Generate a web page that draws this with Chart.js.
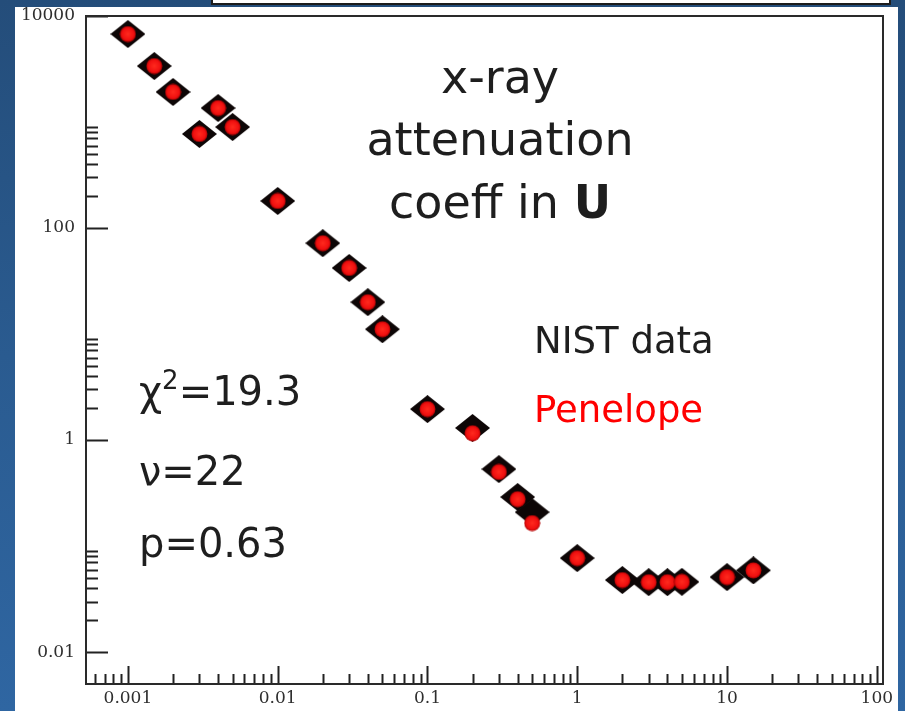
<!DOCTYPE html>
<html>
<head>
<meta charset="utf-8">
<script src="https://cdn.jsdelivr.net/npm/chart.js@4.4.1/dist/chart.umd.min.js"></script>
<style>
  html, body { margin: 0; padding: 0; }
  body {
    width: 905px; height: 711px; overflow: hidden; position: relative;
    background: linear-gradient(to bottom, #244d7a 0%, #2a5b90 50%, #2f66a2 100%);
  }
  #panel { position: absolute; left: 15px; top: 7px; width: 883px; height: 720px; background: #ffffff; }
  #topbox { position: absolute; left: 211px; top: -6px; width: 676px; height: 7px; background: #ffffff; border: 2px solid #1c1c1c; }
  #wrap { position: absolute; left: 0; top: 0; width: 905px; height: 711px; }
  .t { position: absolute; font-family: "DejaVu Sans", Verdana, sans-serif; color: #1e1e1e; white-space: nowrap; }
  .title { left: 300px; width: 400px; text-align: center; font-size: 46px; line-height: 46px; }
  .stat { left: 139px; font-size: 40px; line-height: 40px; }
  .leg { left: 534px; font-size: 37px; line-height: 37px; }
  sup { font-size: 0.65em; vertical-align: 0; position: relative; top: -0.6em; }
</style>
</head>
<body>
<div id="panel"></div>
<div id="topbox"></div>
<div id="wrap"><canvas id="c" width="905" height="711"></canvas></div>

<div class="t title" style="top:54px">x-ray</div>
<div class="t title" style="top:116px">attenuation</div>
<div class="t title" style="top:179px">coeff in <b>U</b></div>

<div class="t stat" style="top:371px">χ<sup>2</sup>=19.3</div>
<div class="t stat" style="top:451px">ν=22</div>
<div class="t stat" style="top:523px">p=0.63</div>

<div class="t leg" style="top:322px">NIST data</div>
<div class="t leg" style="top:391px; color:#ff0000">Penelope</div>

<script>
// ---- data (photon energy in MeV, attenuation coefficient) ----
const energies = [0.001, 0.0015, 0.002, 0.003, 0.004, 0.005, 0.01, 0.02, 0.03, 0.04, 0.05,
                  0.1, 0.2, 0.3, 0.4, 0.5, 1, 2, 3, 4, 5, 10, 15];
const nistValues = [6760, 3375, 1920, 771, 1355, 897, 180, 72, 42, 20, 11.1,
                    1.96, 1.30, 0.532, 0.29, 0.209, 0.077, 0.0478, 0.0457, 0.0457, 0.046, 0.051, 0.059];
const penelopeValues = [6760, 3375, 1920, 771, 1355, 897, 180, 72, 42, 20, 11.1,
                        1.96, 1.16, 0.50, 0.277, 0.165, 0.077, 0.0478, 0.0457, 0.0457, 0.046, 0.051, 0.059];

const xTickValues = [0.001, 0.01, 0.1, 1, 10, 100];
const xTickLabels = ['0.001', '0.01', '0.1', '1', '10', '100'];
const yTickValues = [0.01, 1, 100, 10000];
const yTickLabels = ['0.01', '1', '100', '10000'];
const yMinorDecades = [0.01, 1, 100];

// ---- tick positions (axis decoration) ----
const X_MIN = 0.000525, X_MAX = 110, Y_MIN = 0.005, Y_MAX = 10000;
function near(a, b) { return Math.abs(a - b) <= 1e-9 * Math.max(Math.abs(a), Math.abs(b)); }
const xTickPositions = [];
for (let d = 0.0001; d <= 100; d *= 10) {
  for (let k = 1; k <= 9; k++) {
    const v = parseFloat((k * d).toPrecision(6));
    if (v >= X_MIN && v <= X_MAX) xTickPositions.push(v);
  }
}
const yTickPositions = yTickValues.slice();
yMinorDecades.forEach(d => { for (let k = 2; k <= 9; k++) yTickPositions.push(parseFloat((k * d).toPrecision(6))); });
yTickPositions.sort((a, b) => a - b);

function labelFor(v, vals, labs) {
  for (let i = 0; i < vals.length; i++) if (near(v, vals[i])) return labs[i];
  return '';
}

// ---- marker images ----
function makeDiamond(w, h, color) {
  const c = document.createElement('canvas'); c.width = w; c.height = h;
  const g = c.getContext('2d');
  g.fillStyle = color;
  g.beginPath(); g.moveTo(w / 2, 0); g.lineTo(w, h / 2); g.lineTo(w / 2, h); g.lineTo(0, h / 2); g.closePath();
  g.fill();
  return c;
}
function makeDot(d) {
  const c = document.createElement('canvas'); c.width = d; c.height = d;
  const g = c.getContext('2d');
  const r = d / 2;
  const grad = g.createRadialGradient(r, r, 0, r, r, r);
  grad.addColorStop(0, '#ff2a1e'); grad.addColorStop(0.7, '#f01010'); grad.addColorStop(1, '#a00000');
  g.fillStyle = grad;
  g.beginPath(); g.arc(r, r, r - 0.5, 0, Math.PI * 2); g.fill();
  return c;
}
const diamondImg = makeDiamond(35, 28, '#0d0606');
const dotImg = makeDot(17);

// ---- plugin: plot frame and inward tick marks ----
const framePlugin = {
  id: 'frame',
  beforeDatasetsDraw(chart) {
    const { ctx, chartArea: a, scales } = chart;
    ctx.save();
    ctx.strokeStyle = '#222222';
    ctx.lineWidth = 2;
    ctx.beginPath();
    scales.x.ticks.forEach(t => {
      const px = Math.round(scales.x.getPixelForValue(t.value)) + 0.5;
      const len = t.label ? 18 : 10;
      ctx.moveTo(px, a.bottom); ctx.lineTo(px, a.bottom - len);
    });
    scales.y.ticks.forEach(t => {
      const py = Math.round(scales.y.getPixelForValue(t.value)) + 0.5;
      const len = t.label ? 22 : 12;
      ctx.moveTo(a.left, py); ctx.lineTo(a.left + len, py);
    });
    ctx.stroke();
    ctx.strokeStyle = '#2a2a2a';
    ctx.strokeRect(a.left, a.top, a.right - a.left, a.bottom - a.top);
    ctx.restore();
  }
};

const tickFont = { family: '"DejaVu Serif", "Liberation Serif", serif', size: 17 };

new Chart(document.getElementById('c'), {
  type: 'scatter',
  data: {
    datasets: [
      {
        label: 'NIST data',
        data: energies.map((e, i) => ({ x: e, y: nistValues[i] })),
        pointStyle: diamondImg,
        pointRadius: 12,
        order: 2
      },
      {
        label: 'Penelope',
        data: energies.map((e, i) => ({ x: e, y: penelopeValues[i] })),
        pointStyle: dotImg,
        pointRadius: 8,
        order: 1
      }
    ]
  },
  options: {
    responsive: false,
    animation: false,
    events: [],
    layout: { padding: { left: 15, top: 16, right: 22, bottom: 0 } },
    plugins: { legend: { display: false }, tooltip: { enabled: false }, title: { display: false } },
    scales: {
      x: {
        type: 'logarithmic', position: 'bottom', min: X_MIN, max: X_MAX,
        afterBuildTicks: s => { s.ticks = xTickPositions.map(v => ({ value: v })); },
        afterFit: s => { s.height = 27; s.paddingLeft = 0; s.paddingRight = 0; },
        grid: { display: false, drawTicks: false },
        border: { display: false },
        ticks: {
          autoSkip: false, maxRotation: 0, minRotation: 0, padding: 4,
          color: '#2e2e2e', font: tickFont,
          callback: v => labelFor(v, xTickValues, xTickLabels)
        }
      },
      y: {
        type: 'logarithmic', position: 'left', min: Y_MIN, max: Y_MAX,
        afterBuildTicks: s => { s.ticks = yTickPositions.map(v => ({ value: v })); },
        afterFit: s => { s.width = 71; s.paddingTop = 0; s.paddingBottom = 0; },
        grid: { display: false, drawTicks: false },
        border: { display: false },
        ticks: {
          autoSkip: false, padding: 11,
          color: '#2e2e2e', font: tickFont,
          callback: v => labelFor(v, yTickValues, yTickLabels)
        }
      }
    }
  },
  plugins: [framePlugin]
});
</script>
</body>
</html>
